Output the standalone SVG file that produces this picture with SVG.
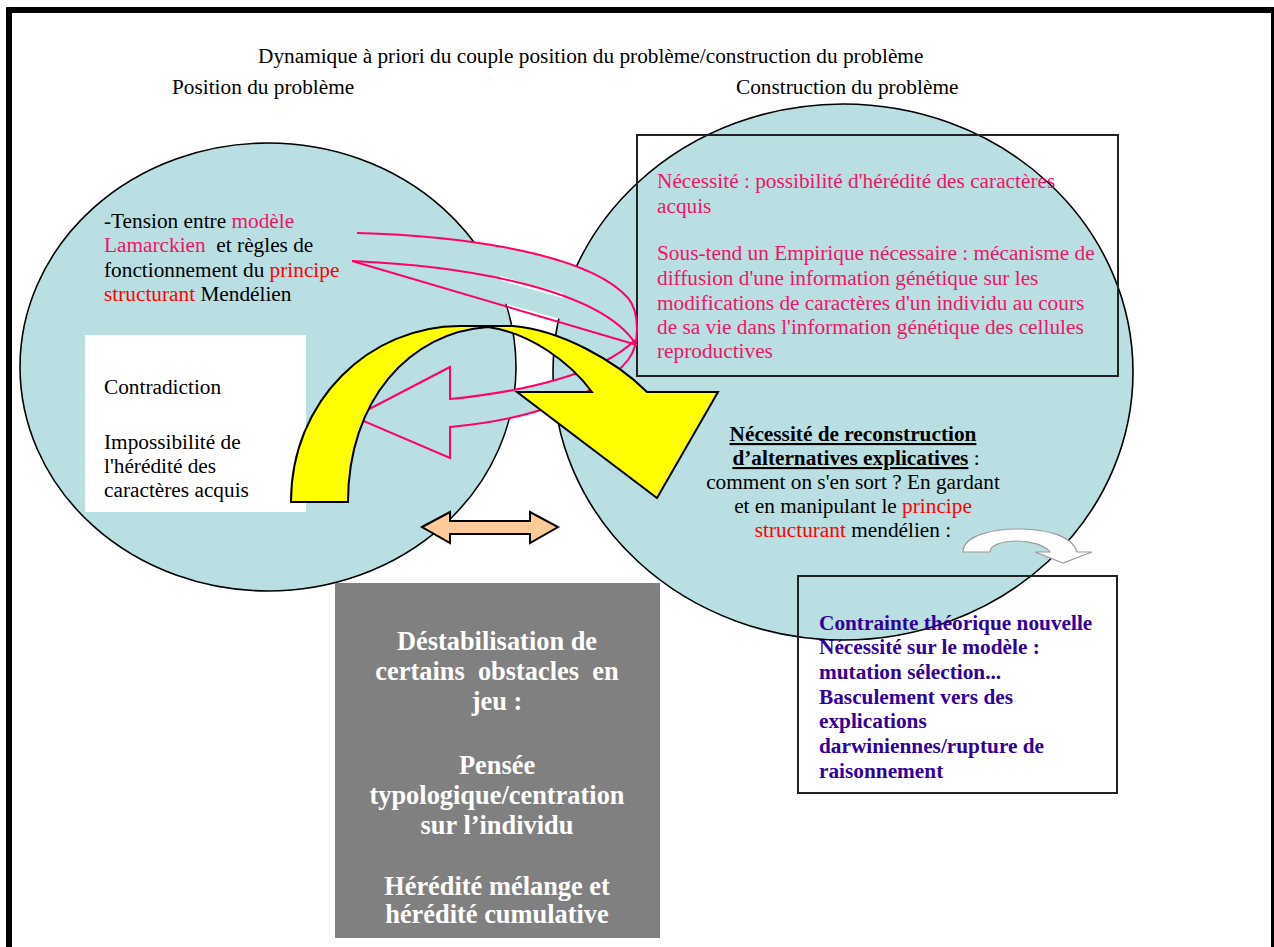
<svg xmlns="http://www.w3.org/2000/svg" width="1274" height="947" viewBox="0 0 1274 947">
<style>
text{font-family:"Liberation Serif","Times New Roman",serif;font-size:21.3px;fill:#000}
.pk{fill:#EE1566}
.rd{fill:#FF0000}
.b{font-weight:bold}
.u{text-decoration:underline}
.bl{fill:#330099;font-weight:bold}
.wt{fill:#fff;font-weight:bold;font-size:26.4px}
.ell{fill:#BADFE2;stroke:#000;stroke-width:1.6}
.box{fill:none;stroke:#222;stroke-width:2}
.rib{fill:none;stroke:#FF0066;stroke-width:2}
</style>
<rect x="0" y="0" width="1274" height="947" fill="#fff"/>
<rect x="9" y="10" width="1265" height="950" fill="none" stroke="#000" stroke-width="6"/>
<g id="titles">
<text x="258" y="63">Dynamique à priori du couple position du problème/construction du problème</text>
<text x="172" y="94">Position du problème</text>
<text x="736" y="94">Construction du problème</text>
</g>
<g id="position">
<ellipse class="ell" cx="268" cy="367" rx="248" ry="224"/>
<text x="104" y="228"><tspan>-Tension entre </tspan><tspan class="pk">modèle</tspan></text>
<text x="104" y="252" xml:space="preserve"><tspan class="pk">Lamarckien</tspan>  et règles de</text>
<text x="104" y="277">fonctionnement du <tspan class="rd">principe</tspan></text>
<text x="104" y="301"><tspan class="rd">structurant</tspan> Mendélien</text>
</g>
<g id="construction">
<ellipse class="ell" cx="843" cy="372" rx="290" ry="268"/>
</g>
<g id="contradiction">
<rect x="85" y="335" width="221" height="177" fill="#fff"/>
<text x="104" y="394">Contradiction</text>
<text x="104" y="449">Impossibilité de</text>
<text x="104" y="473">l'hérédité des</text>
<text x="104" y="497">caractères acquis</text>
</g>
<g id="necessite">
<rect class="box" x="637" y="135" width="481" height="241"/>
<text class="pk" x="657" y="188">Nécessité : possibilité d'hérédité des caractères</text>
<text class="pk" x="657" y="213">acquis</text>
<text class="pk" x="657" y="260">Sous-tend un Empirique nécessaire : mécanisme de</text>
<text class="pk" x="657" y="285">diffusion d'une information génétique sur les</text>
<text class="pk" x="657" y="310">modifications de caractères d'un individu au cours</text>
<text class="pk" x="657" y="334">de sa vie dans l'information génétique des cellules</text>
<text class="pk" x="657" y="358">reproductives</text>
</g>
<g id="connectors">
<path d="M357,233 C470,236 590,255 628,298 C640,312 640,345 628,360 C600,395 530,420 450,427 L450,458 L354,417 L450,367 L450,399 C520,392 600,375 635,340 L352,261 Z" fill="#BADFE2" stroke="none"/>
<polygon points="500,276 563,293 563,298 502,281" fill="#fff"/>
<path class="rib" d="M357,233 C470,236 590,255 628,298 C640,312 640,345 628,360 C600,395 530,420 450,427 L450,458 L354,417 L450,367 L450,399 C520,392 600,375 635,340"/>
<path class="rib" d="M352,261 C470,266 600,290 635,343"/>
<path class="rib" d="M352,261 L637,345"/>
<path d="M291,502 C291,400 370,326 460,326 L513,326 C560,330 615,360 647,392 L718,392 L657,498 L517,392 L592,392 C570,362 530,333 488,327 C410,332 348,400 348,502 Z" fill="#FFFF00" stroke="#000" stroke-width="2" stroke-linejoin="miter"/>
<polygon points="422,527 450,512 450,521 530,521 530,512 558,527 530,543 530,534 450,534 450,543" fill="#FFCC99" stroke="#000" stroke-width="2"/>
<path d="M963,552 C963,535 995,529 1017,529 C1045,529 1072,535 1077,552 L1092,552 L1063,563 L1035,552 L1050,552 C1045,545 1030,541 1017,541 C1003,541 990,545 990,552 Z" fill="#fff" stroke="#999" stroke-width="1.2"/>
</g>
<g id="reconstruction">
<text x="853" y="441" text-anchor="middle" class="b u">Nécessité de reconstruction</text>
<text x="856" y="465" text-anchor="middle"><tspan class="b u">d’alternatives explicatives</tspan> :</text>
<text x="853" y="489" text-anchor="middle">comment on s'en sort ? En gardant</text>
<text x="853" y="513" text-anchor="middle">et en manipulant le <tspan class="rd">principe</tspan></text>
<text x="853" y="537" text-anchor="middle"><tspan class="rd">structurant</tspan> mendélien :</text>
</g>
<g id="contrainte">
<rect class="box" x="798" y="576" width="319" height="217"/>
<text class="bl" x="819" y="630">Contrainte théorique nouvelle</text>
<text class="bl" x="819" y="654">Nécessité sur le modèle :</text>
<text class="bl" x="819" y="679">mutation sélection...</text>
<text class="bl" x="819" y="704">Basculement vers des</text>
<text class="bl" x="819" y="728">explications</text>
<text class="bl" x="819" y="753">darwiniennes/rupture de</text>
<text class="bl" x="819" y="778">raisonnement</text>
</g>
<g id="destabilisation">
<rect x="335" y="583" width="325" height="355" fill="#808080"/>
<text class="wt" x="497" y="650" text-anchor="middle">Déstabilisation de</text>
<text class="wt" x="497" y="680" text-anchor="middle" xml:space="preserve">certains  obstacles  en</text>
<text class="wt" x="497" y="710" text-anchor="middle">jeu :</text>
<text class="wt" x="497" y="774" text-anchor="middle">Pensée</text>
<text class="wt" x="497" y="804" text-anchor="middle">typologique/centration</text>
<text class="wt" x="497" y="834" text-anchor="middle">sur l’individu</text>
<text class="wt" x="497" y="895" text-anchor="middle">Hérédité mélange et</text>
<text class="wt" x="497" y="923" text-anchor="middle">hérédité cumulative</text>
</g>
</svg>
